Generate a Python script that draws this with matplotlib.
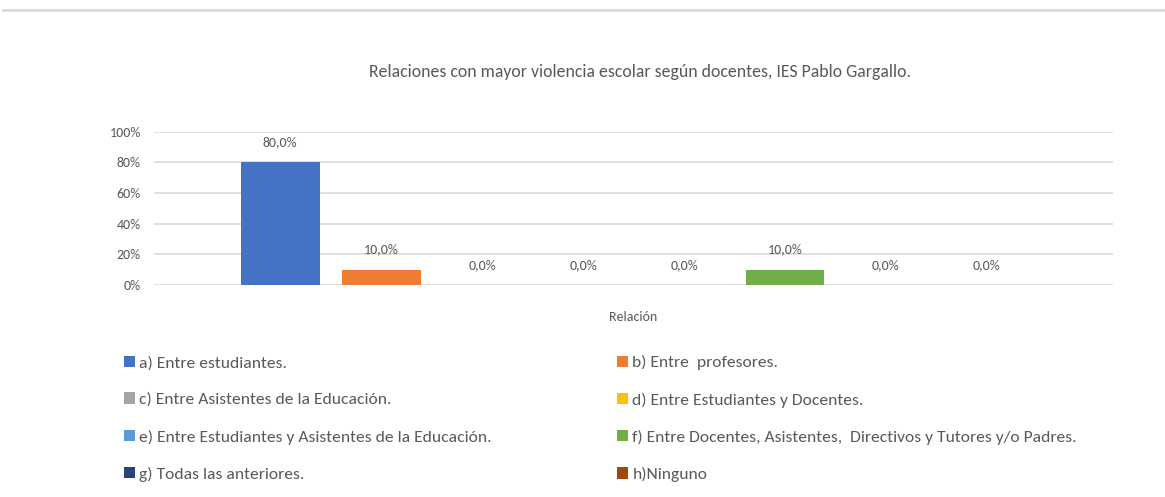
import matplotlib
matplotlib.use("Agg")
import matplotlib.pyplot as plt
from matplotlib.lines import Line2D

plt.rcParams['font.family'] = ['Carlito', 'Archivo Narrow', 'DejaVu Sans']

TEXT_COLOR = '#595959'
GRID_COLOR = '#D9D9D9'

title = "Relaciones con mayor violencia escolar según docentes, IES Pablo Gargallo."
x_label = "Relación"

series_names = [
    "a) Entre estudiantes.",
    "b) Entre  profesores.",
    "c) Entre Asistentes de la Educación.",
    "d) Entre Estudiantes y Docentes.",
    "e) Entre Estudiantes y Asistentes de la Educación.",
    "f) Entre Docentes, Asistentes,  Directivos y Tutores y/o Padres.",
    "g) Todas las anteriores.",
    "h)Ninguno",
]
values = [0.80, 0.10, 0.0, 0.0, 0.0, 0.10, 0.0, 0.0]
colors = ['#4472C4', '#ED7D31', '#A5A5A5', '#FFC000',
          '#5B9BD5', '#70AD47', '#264478', '#9E480E']
y_ticks = [0.0, 0.2, 0.4, 0.6, 0.8, 1.0]
y_tick_labels = ["0%", "20%", "40%", "60%", "80%", "100%"]

fig = plt.figure(figsize=(11.65, 4.97), dpi=100)
ax = fig.add_axes([0.1322, 0.4266, 0.8232, 0.3085])

# thin grey frame line at the top of the picture
fig.add_artist(Line2D([0.003, 1.0], [0.979, 0.979], transform=fig.transFigure,
                      color='#D9D9D9', linewidth=2))

handles = []
for i, (name, v, c) in enumerate(zip(series_names, values, colors)):
    b = ax.bar(i, v, width=0.78, color=c, linewidth=0, label=name, zorder=3)
    handles.append(b)
    ax.annotate(("%.1f%%" % (v * 100)).replace('.', ','), (i, v),
                xytext=(0, 14.5), textcoords='offset points',
                ha='center', va='center', fontsize=10, color=TEXT_COLOR)

ax.set_xlim(-1.25, 8.25)
ax.set_ylim(0, 1)
ax.set_yticks(y_ticks)
ax.set_yticklabels(y_tick_labels)
ax.set_xticks([])
ax.tick_params(axis='y', length=0, pad=9.5, labelsize=10, labelcolor=TEXT_COLOR)
ax.grid(axis='y', color=GRID_COLOR, linewidth=1.2, zorder=0)
ax.set_axisbelow(True)
for s in ax.spines.values():
    s.set_visible(False)

ax.set_xlabel(x_label, fontsize=10, color=TEXT_COLOR, labelpad=19)

fig.text(0.549, 0.855, title, ha='center', va='center', fontsize=12.8, color=TEXT_COLOR)

# legend filled row by row like in the original
order = [0, 2, 4, 6, 1, 3, 5, 7]
leg = fig.legend([handles[k] for k in order], [series_names[k] for k in order],
                 ncol=2, loc='upper left', bbox_to_anchor=(0.093, 0.317),
                 frameon=False, fontsize=12.6, handlelength=0.6, handleheight=0.6,
                 handletextpad=0.25, labelspacing=1.27, columnspacing=7.2,
                 labelcolor=TEXT_COLOR)

fig.savefig("out.png", dpi=100)
